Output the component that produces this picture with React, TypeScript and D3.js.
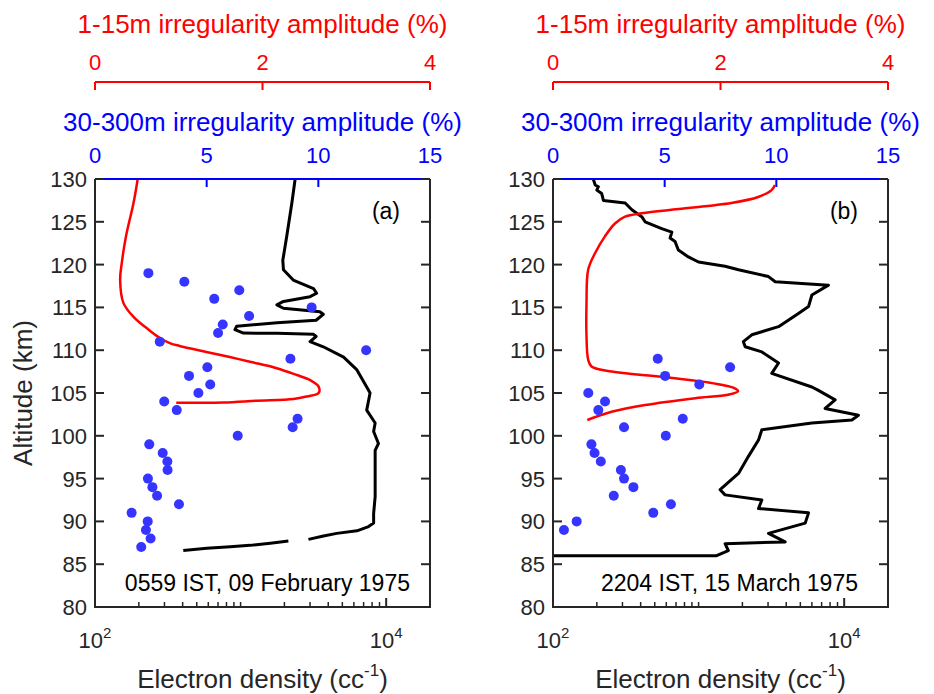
import React from "react"
import * as d3 from "d3"

const width = 934
const height = 694

// plot boxes
const top = 179
const bottom = 607
const boxW = 335
const panelLeft = [95, 553]

const font = "'Liberation Sans', Arial, Helvetica, sans-serif"
const ink = "#262626"

// axes
const altTicks = [80, 85, 90, 95, 100, 105, 110, 115, 120, 125, 130]
const ampBlueTicks = [0, 5, 10, 15]
const ampRedTicks = [0, 2, 4]
const neMajor = [100, 10000]
const neMinor = [200, 300, 400, 500, 600, 700, 800, 900, 1000, 2000, 3000, 4000, 5000, 6000, 7000, 8000, 9000]

// panel (a): 30-300m amplitude (blue dots)
const dotAltA = [119, 118, 117, 116, 115, 114, 113, 112, 111, 110, 109, 108, 107, 106, 105, 104, 103, 102, 101, 100, 99, 98, 97, 96, 95, 94, 93, 92, 91, 90, 89, 88, 87]
const dotAmpA = [2.39, 4.0, 6.46, 5.34, 9.7, 6.9, 5.72, 5.51, 2.9, 12.14, 8.75, 5.03, 4.21, 5.16, 4.63, 3.1, 3.66, 9.07, 8.85, 6.39, 2.43, 3.03, 3.24, 3.25, 2.37, 2.57, 2.78, 3.76, 1.64, 2.36, 2.28, 2.49, 2.07]

// panel (a): 1-15m amplitude (red line)
const redAltA = [130, 127.2, 123.3, 120.2, 118.2, 115.5, 113.9, 112.4, 111.4, 110.8, 110.5, 109.8, 109.2, 108.65, 107.9, 107.1, 106.5, 105.75, 105.0, 104.6, 104.3, 104.1, 103.9, 103.85]
const redAmpA = [0.51, 0.46, 0.37, 0.32, 0.3, 0.34, 0.46, 0.64, 0.78, 0.9, 1.01, 1.33, 1.61, 1.85, 2.17, 2.41, 2.57, 2.67, 2.67, 2.53, 2.37, 1.93, 1.53, 0.97]

// panel (a): electron density (black line), NaN = data gap
const neAltA = [130, 127.2, 123.3, 120.5, 119.4, 118.2, 117.2, 116.65, 116.25, 115.7, 115.3, 114.9, 114.5, 114.2, 113.5, 113.2, 112.8, 112.4, 112.0, 111.97, 111.85, 111.6, 111.0, 110.4, 109.2, 107.7, 105.7, 105.0, 103.0, 101.5, 100.5, 99.1, 98.3, 92.9, 90.9, 89.8, 89.4, 88.9, 88.6, 88.3, 87.9, NaN, 87.7, 87.45, 87.2, 87.05, 86.85, 86.6]
const neValA = [2370, 2250, 2075, 1950, 1970, 2300, 3170, 3330, 3000, 1970, 1775, 1970, 3500, 3700, 3300, 1780, 940, 915, 1045, 1780, 3170, 3300, 3000, 3700, 5100, 6300, 7350, 7750, 7350, 8400, 8200, 8850, 8400, 8400, 8200, 8200, 7570, 6300, 4580, 3710, 2925, NaN, 2130, 1600, 1160, 850, 586, 404]

// panel (b)
const dotAltB = [109, 108, 107, 106, 105, 104, 103, 102, 101, 100, 99, 98, 97, 96, 95, 94, 93, 92, 91, 90, 89]
const dotAmpB = [4.69, 7.93, 5.02, 6.55, 1.58, 2.33, 2.03, 5.81, 3.18, 5.05, 1.72, 1.86, 2.14, 3.04, 3.18, 3.6, 2.72, 5.28, 4.49, 1.06, 0.49]

const redAltB = [129.3, 128.7, 127.9, 127.2, 126.5, 126.0, 125.6, 124.8, 123.3, 121.3, 119.4, 115.5, 111.6, 108.9, 108.1, 107.5, 106.9, 106.3, 105.55, 105.2, 104.8, 104.4, 103.6, 102.8, 101.85]
const redAmpB = [2.65, 2.61, 2.45, 2.13, 1.5, 1.06, 0.86, 0.74, 0.62, 0.5, 0.42, 0.4, 0.4, 0.42, 0.46, 0.7, 1.3, 1.81, 2.17, 2.21, 2.09, 1.7, 1.1, 0.7, 0.41]

const neAltB = [130, 129.3, 129.1, 128.7, 128.3, 127.5, 127.2, 126.4, 125.6, 125.0, 124.2, 123.8, 123.1, 122.7, 121.7, 120.9, 120.3, 119.8, 119.4, 118.6, 118.0, 117.6, 116.45, 115.1, 114.3, 112.75, 111.8, 111.0, 110.4, 109.8, 108.5, 107.3, 105.7, 105.3, 104.2, 103.2, 102.4, 101.85, 101.5, 100.7, 99.5, 97.6, 95.6, 93.7, 93.1, 92.5, 91.5, 91.0, 89.8, 88.6, 87.6, 87.4, 86.6, 86.0, 86.0]
const neValB = [189, 195, 205, 200, 216, 222, 313, 348, 407, 429, 558, 655, 637, 689, 726, 851, 998, 1520, 1880, 3020, 3360, 7800, 6000, 5690, 4850, 3540, 2320, 2030, 2090, 2720, 3540, 3180, 6000, 6650, 8670, 7400, 12530, 11300, 6000, 2720, 2580, 2200, 1880, 1406, 1520, 2720, 2580, 5690, 5400, 3020, 3930, 1520, 1600, 1330, 100]

const panels = [
  { tag: "(a)", note: "0559 IST, 09 February 1975", noteRight: 20, dotAlt: dotAltA, dotAmp: dotAmpA, redAlt: redAltA, redAmp: redAmpA, neAlt: neAltA, neVal: neValA },
  { tag: "(b)", note: "2204 IST, 15 March 1975", noteRight: 30, dotAlt: dotAltB, dotAmp: dotAmpB, redAlt: redAltB, redAmp: redAmpB, neAlt: neAltB, neVal: neValB },
]

const y = d3.scaleLinear().domain([80, 130]).range([bottom, top])

const Panel = ({ p, x0, i }) => {
  const x1 = x0 + boxW
  const xNe = d3.scaleLog().domain([100, 20000]).range([x0, x1])
  const xBlue = d3.scaleLinear().domain([0, 15]).range([x0, x1])
  const xRed = d3.scaleLinear().domain([0, 4]).range([x0, x1])

  const redLine = d3
    .line()
    .x((d) => xRed(d[1]))
    .y((d) => y(d[0]))
    .curve(d3.curveCatmullRom.alpha(0.5))
  const neLine = d3
    .line()
    .defined((d) => !isNaN(d[0]))
    .x((d) => xNe(d[1]))
    .y((d) => y(d[0]))

  const redPts = p.redAlt.map((a, k) => [a, p.redAmp[k]])
  const nePts = p.neAlt.map((a, k) => [a, p.neVal[k]])
  const clipId = `clip${i}`
  const cx = (x0 + x1) / 2

  return (
    <g>
      <defs>
        <clipPath id={clipId}>
          <rect x={x0} y={top} width={boxW} height={bottom - top} />
        </clipPath>
      </defs>

      {/* red (1-15m) axis */}
      <text x={cx} y={33} textAnchor="middle" fontSize={26} fill="#ff0000">
        1-15m irregularity amplitude (%)
      </text>
      <line x1={x0} x2={x1} y1={82} y2={82} stroke="#ff0000" strokeWidth={2} />
      {ampRedTicks.map((t) => (
        <g key={t}>
          <line x1={xRed(t)} x2={xRed(t)} y1={82} y2={90} stroke="#ff0000" strokeWidth={2} />
          <text x={xRed(t)} y={70} textAnchor="middle" fontSize={22} fill="#ff0000">
            {t}
          </text>
        </g>
      ))}

      {/* blue (30-300m) axis */}
      <text x={cx} y={131} textAnchor="middle" fontSize={26} fill="#0000ff">
        30-300m irregularity amplitude (%)
      </text>
      {ampBlueTicks.map((t) => (
        <g key={t}>
          <line x1={xBlue(t)} x2={xBlue(t)} y1={top} y2={top + 8} stroke="#0000ff" strokeWidth={2} />
          <text x={xBlue(t)} y={163} textAnchor="middle" fontSize={22} fill="#0000ff">
            {t}
          </text>
        </g>
      ))}

      {/* data */}
      <g clipPath={`url(#${clipId})`}>
        <path d={neLine(nePts)} fill="none" stroke="#000" strokeWidth={3} strokeLinejoin="round" />
        <path d={redLine(redPts)} fill="none" stroke="#ff0000" strokeWidth={2.5} />
        {p.dotAlt.map((a, k) => (
          <circle key={k} cx={xBlue(p.dotAmp[k])} cy={y(a)} r={5} fill="#3535ff" />
        ))}
      </g>

      {/* frame */}
      <path d={`M${x0},${top}V${bottom}H${x1}V${top}`} fill="none" stroke={ink} strokeWidth={2} />
      <line x1={x0} x2={x1} y1={top} y2={top} stroke="#0000ff" strokeWidth={2} />

      {/* altitude ticks */}
      {altTicks.map((t) => (
        <g key={t}>
          <line x1={x0} x2={x0 + 9} y1={y(t)} y2={y(t)} stroke={ink} strokeWidth={2} />
          <line x1={x1 - 9} x2={x1} y1={y(t)} y2={y(t)} stroke={ink} strokeWidth={2} />
          <text x={x0 - 8} y={y(t)} dy="0.36em" textAnchor="end" fontSize={22} fill={ink}>
            {t}
          </text>
        </g>
      ))}

      {/* density ticks */}
      {neMinor.map((t) => (
        <line key={t} x1={xNe(t)} x2={xNe(t)} y1={bottom} y2={bottom - 5} stroke={ink} strokeWidth={1.5} />
      ))}
      {neMajor.map((t) => (
        <g key={t}>
          <line x1={xNe(t)} x2={xNe(t)} y1={bottom} y2={bottom - 9} stroke={ink} strokeWidth={2} />
          <text x={xNe(t)} y={648} textAnchor="middle" fontSize={22} fill={ink}>
            10
            <tspan fontSize={15} dy={-10}>
              {Math.round(Math.log10(t))}
            </tspan>
          </text>
        </g>
      ))}
      <text x={cx} y={688} textAnchor="middle" fontSize={26} fill={ink}>
        Electron density (cc
        <tspan fontSize={17} dy={-12}>
          -1
        </tspan>
        <tspan dy={12}>)</tspan>
      </text>

      <text x={x1 - 30} y={219} textAnchor="end" fontSize={23} fill="#000">
        {p.tag}
      </text>
      <text x={x1 - p.noteRight} y={591} textAnchor="end" fontSize={23} fill="#000">
        {p.note}
      </text>
    </g>
  )
}

export default function App() {
  return (
    <svg
      width={width}
      height={height}
      style={{ position: "absolute", left: 0, top: 0, background: "#fff", fontFamily: font }}
    >
      <rect width={width} height={height} fill="#fff" />
      {panels.map((p, i) => (
        <Panel key={i} p={p} x0={panelLeft[i]} i={i} />
      ))}
      <text
        transform={`translate(32, ${(top + bottom) / 2}) rotate(-90)`}
        textAnchor="middle"
        fontSize={26}
        fill={ink}
      >
        Altitude (km)
      </text>
    </svg>
  )
}
